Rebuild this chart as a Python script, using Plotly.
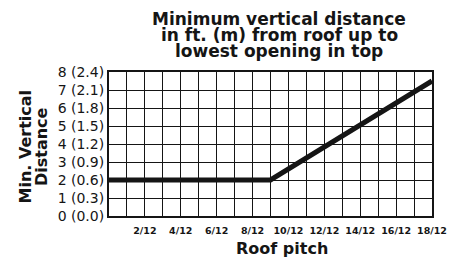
import plotly.graph_objects as go

# Data
pitch = [0, 9, 18]                 # roof pitch in /12 units
min_distance = [2, 2, 7.5]         # ft
x_tick_vals = list(range(0, 19))
x_tick_text = ["" if (v % 2 or v == 0) else f"{v}/12" for v in x_tick_vals]
y_tick_vals = list(range(0, 9))
y_tick_text = ["0 (0.0)", "1 (0.3)", "2 (0.6)", "3 (0.9)", "4 (1.2)",
               "5 (1.5)", "6 (1.8)", "7 (2.1)", "8 (2.4)"]
title_lines = ["Minimum vertical distance", "in ft. (m) from roof up to", "lowest opening in top"]
y_title_lines = ["Min. Vertical", "Distance"]
x_title = "Roof pitch"

INK = "#151515"
FONT = "DejaVu Sans"
L, R, T, B = 109, 29, 72, 41
W, H = 461, 257
PW, PH = W - L - R, H - T - B

def px(x):
    return (x - L) / PW

def py(y):
    return (H - B - y) / PH

fig = go.Figure()
fig.add_trace(go.Scatter(x=pitch, y=min_distance, mode="lines",
                         line=dict(color=INK, width=5), cliponaxis=False,
                         hoverinfo="skip"))

annotations = []
for text, ypix in zip(title_lines, [19, 35, 51]):
    annotations.append(dict(text=f"<b>{text}</b>", x=px(279), y=py(ypix), xref="paper", yref="paper",
                            xanchor="center", yanchor="middle", showarrow=False,
                            font=dict(family=FONT, size=17, color=INK)))
for text, xpix in zip(y_title_lines, [25, 41.5]):
    annotations.append(dict(text=f"<b>{text}</b>", x=px(xpix), y=py(146.5), xref="paper", yref="paper",
                            xanchor="center", yanchor="middle", textangle=-90, showarrow=False,
                            font=dict(family=FONT, size=16, color=INK)))
annotations.append(dict(text=f"<b>{x_title}</b>", x=px(282), y=py(248), xref="paper", yref="paper",
                        xanchor="center", yanchor="middle", showarrow=False,
                        font=dict(family=FONT, size=16, color=INK)))

fig.update_layout(
    width=W, height=H,
    margin=dict(l=L, r=R, t=T, b=B, pad=0),
    paper_bgcolor="white", plot_bgcolor="white",
    showlegend=False,
    annotations=annotations,
    xaxis=dict(range=[0, 18], tickvals=x_tick_vals, ticktext=x_tick_text,
               showgrid=True, gridcolor=INK, gridwidth=1.3, zeroline=False,
               showline=True, linecolor=INK, linewidth=2, mirror=True,
               ticks="", ticklabelstandoff=5,
               tickfont=dict(family=FONT, size=9.5, color=INK, weight="bold")),
    yaxis=dict(range=[0, 8], tickvals=y_tick_vals, ticktext=y_tick_text,
               showgrid=True, gridcolor=INK, gridwidth=1.3, zeroline=False,
               showline=True, linecolor=INK, linewidth=2, mirror=True,
               ticks="", tickfont=dict(family=FONT, size=14, color=INK)),
)

fig.write_html("out.html", config={"displayModeBar": False},
               post_script="document.body.style.margin='0';")
